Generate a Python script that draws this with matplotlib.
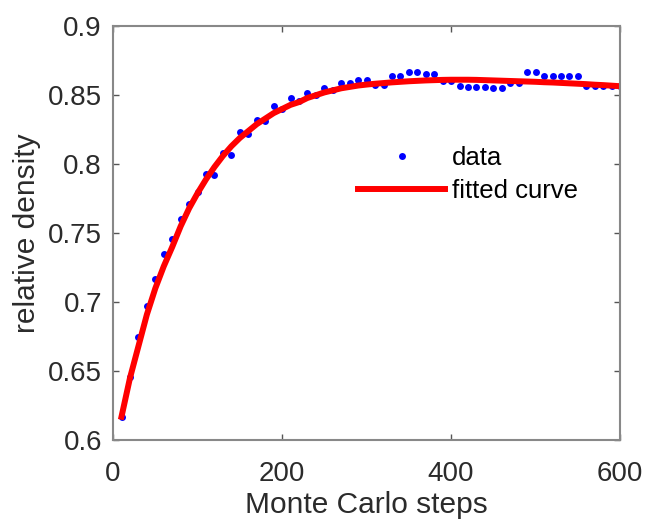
import numpy as np
import matplotlib
matplotlib.use('Agg')
import matplotlib.pyplot as plt
from matplotlib.ticker import FormatStrFormatter

# Monte Carlo steps and measured relative density
steps = np.arange(10, 601, 10)
density = [0.617, 0.646, 0.675, 0.697, 0.717, 0.735, 0.746, 0.760, 0.771, 0.780,
           0.793, 0.792, 0.808, 0.807, 0.823, 0.822, 0.832, 0.831, 0.842, 0.840,
           0.848, 0.846, 0.8515, 0.8505, 0.855, 0.854, 0.859, 0.859, 0.861, 0.861,
           0.8575, 0.8575, 0.864, 0.864, 0.867, 0.867, 0.865, 0.865, 0.860, 0.860,
           0.857, 0.856, 0.856, 0.856, 0.855, 0.855, 0.859, 0.859, 0.867, 0.867,
           0.864, 0.864, 0.864, 0.864, 0.864, 0.8565, 0.8565, 0.8565, 0.8565, 0.8565]

# fitted curve at the same steps
fit = [0.617, 0.645, 0.668, 0.691, 0.710, 0.726, 0.740, 0.755, 0.768, 0.779,
       0.789, 0.798, 0.806, 0.813, 0.819, 0.824, 0.829, 0.833, 0.837, 0.840,
       0.843, 0.845, 0.848, 0.850, 0.852, 0.8535, 0.855, 0.856, 0.857, 0.8577,
       0.8583, 0.8588, 0.8593, 0.8597, 0.8601, 0.8604, 0.8607, 0.8609, 0.8611, 0.8612,
       0.8612, 0.8612, 0.8611, 0.8609, 0.8607, 0.8605, 0.8603, 0.8601, 0.8599, 0.8597,
       0.8594, 0.8592, 0.8589, 0.8586, 0.8583, 0.8580, 0.8576, 0.8573, 0.8569, 0.8565]

plt.rcParams['font.family'] = ['Liberation Sans', 'DejaVu Sans']
text_col = '#2b2b2b'

fig = plt.figure(figsize=(6.46, 5.24), dpi=100)
ax = fig.add_axes([0.175, 0.160, 0.785, 0.790])

ax.plot(steps, density, 'o', color='blue', markersize=5, markeredgewidth=0, label='data')
ax.plot(steps, fit, '-', color='red', linewidth=4.3, label='fitted curve')

ax.set_xlim(0, 600)
ax.set_ylim(0.6, 0.9)
ax.set_xticks([0, 200, 400, 600])
ax.set_yticks(np.arange(0.6, 0.901, 0.05))
ax.yaxis.set_major_formatter(FormatStrFormatter('%g'))
ax.tick_params(direction='in', top=True, right=True, length=4, width=1,
               color='#555555', labelsize=20, labelcolor=text_col)
ax.tick_params(axis='x', pad=15)
ax.tick_params(axis='y', pad=8)
for s in ax.spines.values():
    s.set_color('#888888')
    s.set_linewidth(1.5)

ax.set_xlabel('Monte Carlo steps', fontsize=21.5, color=text_col, labelpad=3)
ax.set_ylabel('relative density', fontsize=21.5, color=text_col, labelpad=5)

ax.legend(loc='upper left', bbox_to_anchor=(0.483, 0.71), frameon=False,
          fontsize=18.5, handlelength=3.4, handletextpad=0.25, labelspacing=0.35,
          borderpad=0, borderaxespad=0)

plt.savefig('out.png', dpi=100)
